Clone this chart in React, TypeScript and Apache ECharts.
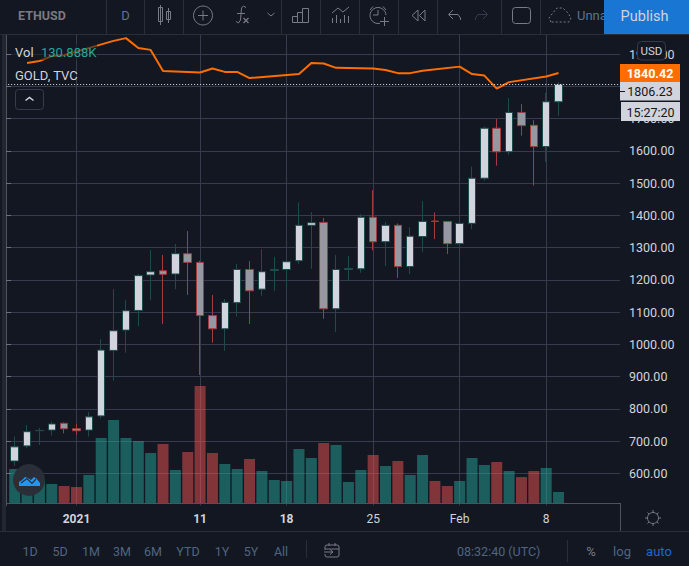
import React, { useEffect, useRef } from "react";
import * as echarts from "echarts";

const categories = [
  "Dec 26", "Dec 27", "Dec 28", "Dec 29", "Dec 30", "Dec 31",
  "Jan 1", "Jan 2", "Jan 3", "Jan 4", "Jan 5", "Jan 6", "Jan 7", "Jan 8", "Jan 9", "Jan 10",
  "Jan 11", "Jan 12", "Jan 13", "Jan 14", "Jan 15", "Jan 16", "Jan 17", "Jan 18", "Jan 19", "Jan 20",
  "Jan 21", "Jan 22", "Jan 23", "Jan 24", "Jan 25", "Jan 26", "Jan 27", "Jan 28", "Jan 29", "Jan 30", "Jan 31",
  "Feb 1", "Feb 2", "Feb 3", "Feb 4", "Feb 5", "Feb 6", "Feb 7", "Feb 8", "Feb 9",
  "Feb 10", "Feb 11", "Feb 12", "Feb 13", "Feb 14",
];
const tickLabels: Record<string, string> = {
  "Jan 1": "2021", "Jan 11": "11", "Jan 18": "18", "Jan 25": "25", "Feb 1": "Feb", "Feb 8": "8",
};
const boldTicks = ["2021", "11", "18"];

const opens = [638, 685, 732, 734, 755, 738, 734, 778, 981, 1044, 1105, 1215, 1228, 1218, 1281, 1254, 1089, 1048, 1129, 1232, 1171, 1230, 1232, 1259, 1369, 1378, 1110, 1233, 1234, 1394, 1318, 1369, 1241, 1334, 1382, 1381, 1312, 1375, 1515, 1670, 1597, 1719, 1679, 1613, 1752];
const closes = [682, 729, 733, 753, 738, 732, 775, 982, 1042, 1104, 1213, 1225, 1217, 1281, 1254, 1089, 1048, 1130, 1232, 1166, 1225, 1231, 1256, 1369, 1377, 1110, 1232, 1235, 1394, 1318, 1369, 1241, 1335, 1381, 1381, 1312, 1375, 1515, 1670, 1597, 1719, 1678, 1613, 1752, 1806.23];
const highs = [714, 750, 741, 760, 758, 753, 790, 1016, 1171, 1137, 1218, 1292, 1277, 1311, 1351, 1259, 1153, 1140, 1249, 1258, 1295, 1271, 1258, 1440, 1410, 1392, 1277, 1274, 1404, 1478, 1380, 1375, 1363, 1444, 1409, 1382, 1376, 1551, 1675, 1699, 1763, 1745, 1695, 1780, 1813];
const lows = [623, 678, 688, 717, 724, 719, 714, 770, 887, 974, 1057, 1137, 1063, 1171, 1153, 905, 1005, 980, 1086, 1063, 1150, 1166, 1182, 1249, 1234, 1079, 1038, 1197, 1222, 1292, 1243, 1206, 1218, 1286, 1326, 1280, 1271, 1357, 1507, 1554, 1587, 1647, 1492, 1566, 1709];
const volumes = [405, 280, 280, 226, 202, 190, 333, 774, 988, 774, 738, 595, 702, 393, 607, 1392, 595, 464, 405, 524, 381, 274, 262, 643, 536, 714, 690, 250, 393, 571, 440, 500, 333, 571, 262, 202, 262, 536, 452, 488, 381, 309, 381, 417, 130.888];
const gold = [null, 1873, 1879, 1895, 1898, null, null, null, 1944, 1953, 1921, 1915, 1847, null, null, 1842, 1855, 1844, 1844, 1824, null, null, null, 1837, 1873, 1871, 1857, null, null, 1855, 1850, 1840, 1840, 1848, null, null, 1861, 1837, 1832, 1790, 1811, null, null, 1829, 1840.42];

const rangeButtons: [string, number][] = [["1D", 30], ["5D", 60], ["1M", 91], ["3M", 122], ["6M", 153], ["YTD", 188], ["1Y", 222], ["5Y", 251], ["All", 281]];

const BG = "#131722";
const GRID = "#363c4e";
const SEP = "#2a2e39";
const TXT = "#d1d4dc";
const ICON = "#787b86";
const MUTED = "#50657f";
const FONT = "Roboto, sans-serif";
const Z = 100;

function line(x1: number, y1: number, x2: number, y2: number, stroke = SEP, lineWidth = 1, z = Z + 1): any {
  return { type: "line", z, silent: true, shape: { x1, y1, x2, y2 }, style: { stroke, lineWidth } };
}
function poly(points: number[][], stroke = ICON, lineWidth = 1, z = Z + 1): any {
  return { type: "polyline", z, silent: true, shape: { points }, style: { stroke, lineWidth, fill: "none" } };
}
function box(x: number, y: number, width: number, height: number, style: any, r = 0, z = Z): any {
  return { type: "rect", z, silent: true, shape: { x, y, width, height, r }, style };
}
function text(t: string, x: number, y: number, font: string, fill: string, textAlign = "left", z = Z + 2): any {
  return { type: "text", z, silent: true, x, y, style: { text: t, font: font + " " + FONT, fill, textAlign, textVerticalAlign: "middle" } };
}

function chrome(): any[] {
  const el: any[] = [];
  // top toolbar
  el.push(box(0, 0, 689, 34, { fill: BG }));
  el.push(line(0, 34.5, 689, 34.5));
  [106.5, 144.5, 183.5, 281.5, 320.5, 359.5, 398.5, 437.5, 501.5, 540.5].forEach((x) => el.push(line(x, 0, x, 34)));
  el.push(text("ETHUSD", 18, 15.5, "bold 12.5px", ICON));
  el.push(text("D", 125.5, 15.5, "13px", "#5a7396", "center"));
  // candle icon
  el.push(box(158.5, 7.5, 4, 14, { fill: "none", stroke: ICON }, 0, Z + 1), line(160.5, 5, 160.5, 25, ICON), box(166.5, 11.5, 4, 8, { fill: "none", stroke: ICON }, 0, Z + 1), line(168.5, 8, 168.5, 23, ICON));
  // plus circle
  el.push({ type: "circle", z: Z + 1, silent: true, shape: { cx: 203, cy: 15.5, r: 9.5 }, style: { fill: "none", stroke: ICON, lineWidth: 1 } }, line(198, 15.5, 208, 15.5, ICON), line(203, 10.5, 203, 20.5, ICON));
  // fx icon
  el.push(poly([[246, 7.5], [243.5, 6], [241.5, 8], [240.5, 20], [238.5, 23], [236, 21.5]]), line(237, 13.5, 245, 13.5, ICON), line(243.5, 18, 248.5, 23, ICON, 1.3), line(248.5, 18, 243.5, 23, ICON, 1.3));
  el.push(poly([[267.5, 13], [271, 16], [274.5, 13]]));
  // bars icon
  el.push(box(292.5, 16.5, 5, 6, { fill: "none", stroke: ICON }, 0, Z + 1), box(297.5, 12.5, 5, 10, { fill: "none", stroke: ICON }, 0, Z + 1), box(302.5, 8.5, 6, 14, { fill: "none", stroke: ICON }, 0, Z + 1));
  // indicator icon
  el.push(poly([[332, 13], [338, 8], [343, 12], [349, 7]]), line(332.5, 18, 332.5, 23, ICON), line(336.5, 15, 336.5, 23, ICON), line(340.5, 19, 340.5, 23, ICON), line(344.5, 15, 344.5, 23, ICON), line(348.5, 16, 348.5, 23, ICON));
  // alarm
  el.push({ type: "circle", z: Z + 1, silent: true, shape: { cx: 378, cy: 15.5, r: 8 }, style: { fill: "none", stroke: ICON, lineWidth: 1 } }, poly([[378, 10], [378, 15], [373, 15]]), poly([[370, 10], [373, 6.5]]), poly([[386, 10], [383, 6.5]]), box(380, 15, 10, 10, { fill: BG }, 0, Z + 1), line(380, 21.5, 389, 21.5, ICON, 1, Z + 2), line(384.5, 17, 384.5, 26, ICON, 1, Z + 2));
  // rewind
  el.push(poly([[418, 10], [412, 15.5], [418, 21], [418, 10]]), poly([[425, 10], [419.5, 15.5], [425, 21], [425, 10]]));
  // undo / redo
  el.push(poly([[453, 10], [448.5, 14.5], [453, 19]]), poly([[449, 14.5], [458, 14.5], [460.5, 18], [460.5, 20]]));
  el.push(poly([[483, 10], [487.5, 14.5], [483, 19]], GRID), poly([[487, 14.5], [478, 14.5], [475.5, 18], [475.5, 20]], GRID));
  // square
  el.push(box(512.5, 7.5, 18, 16, { fill: "none", stroke: ICON }, 3, Z + 1));
  // cloud
  el.push({ type: "polyline", z: Z + 1, silent: true, shape: { points: [[551, 22], [549, 18], [552, 14], [557, 8], [563, 8], [568, 13], [571, 18], [569, 22], [551, 22]] }, style: { stroke: ICON, lineWidth: 1, fill: "none", lineDash: [2, 2] } });
  el.push(text("Unna", 577, 15.5, "13px", "#5a7396"));
  el.push(box(604, 0, 85, 34, { fill: "#1976d2" }, 0, Z + 2));
  el.push({ ...text("Publish", 644.5, 16, "14.5px", TXT, "center"), z: Z + 3 });

  // left strip
  el.push(box(0, 35, 2, 496, { fill: BG }), box(2, 35, 4, 496, { fill: "#222631" }));

  // legends
  el.push(box(12, 44, 85, 16, { fill: "rgba(19,23,34,0.55)" }, 0, 50));
  el.push(text("Vol", 15, 52, "13px", TXT));
  el.push(text("130.888K", 41, 52, "13px", "#26a69a"));
  el.push(text("GOLD, TVC", 15, 75, "13px", TXT));
  el.push(box(15.5, 89.5, 28, 20, { fill: BG, stroke: GRID }, 3, 60));
  el.push(poly([[25.5, 100.5], [29.5, 97.5], [33.5, 100.5]], TXT, 1.5, 61));

  // watermark
  el.push({ type: "circle", z: 70, silent: true, shape: { cx: 29, cy: 480, r: 16 }, style: { fill: "#2a2e39" } });
  el.push({ type: "polygon", z: 71, silent: true, shape: { points: [[19, 486], [19, 482], [22, 480], [25, 477], [28, 478], [31, 480], [34, 477], [37, 479], [40, 483], [40, 486]] }, style: { fill: "#2196f3" } });
  el.push(poly([[21, 483], [27, 478.5], [32, 483.5], [36, 479]], "#2a2e39", 1.2, 72));

  // price panel overlays
  el.push(box(621, 504, 68, 3, { fill: BG }));
  el.push(box(637.5, 41.5, 28, 18.5, { fill: BG, stroke: GRID }, 4));
  el.push(text("USD", 651.5, 50.5, "11.5px", TXT, "center"));
  el.push(box(620, 64, 60, 18, { fill: "#ff6d00" }));
  el.push(text("1840.42", 650, 73.5, "bold 12.5px", "#ffffff", "center"));
  el.push(box(620, 82, 60, 18.5, { fill: TXT }));
  el.push(text("1806.23", 650, 91.5, "12.5px", BG, "center"));
  el.push(line(620, 91.5, 625, 91.5, BG));
  el.push(box(621, 102, 59, 19, { fill: TXT }));
  el.push(text("15:27:20", 650.5, 112, "12.5px", BG, "center"));

  // time axis lines
  el.push(line(6, 503.5, 620, 503.5, "#4c525e"));
  el.push(line(620.5, 503, 620.5, 531, "#4c525e"));
  el.push(line(0, 531.5, 689, 531.5));
  // sun icon
  el.push({ type: "circle", z: Z + 1, silent: true, shape: { cx: 653, cy: 518, r: 5.5 }, style: { fill: "none", stroke: ICON, lineWidth: 1 } });
  [[653, 510, 653, 512], [653, 524, 653, 526], [645, 518, 647, 518], [659, 518, 661, 518], [647.5, 512.5, 649, 514], [657, 522, 658.5, 523.5], [658.5, 512.5, 657, 514], [649, 522, 647.5, 523.5]].forEach((s) => el.push(line(s[0], s[1], s[2], s[3], ICON)));

  // bottom bar
  rangeButtons.forEach(([t, x]) => el.push(text(t, x, 551.5, "12.5px", MUTED, "center")));
  el.push(line(306.5, 540, 306.5, 558));
  el.push(box(325, 545, 14, 12, { fill: "none", stroke: ICON }, 2, Z + 1), line(325, 549, 339, 549, ICON), line(329, 543, 329, 546, ICON), line(335, 543, 335, 546, ICON), box(322, 550, 12, 4, { fill: BG }, 0, Z + 1), poly([[324, 552], [333, 552]], ICON, 1, Z + 2), poly([[330, 549.5], [333, 552], [330, 554.5]], ICON, 1, Z + 2));
  el.push(text("08:32:40 (UTC)", 457, 551.5, "12.5px", MUTED));
  el.push(line(567.5, 540, 567.5, 562));
  el.push(text("%", 591, 551.5, "13px", ICON, "center"));
  el.push(text("log", 622, 551.5, "13px", MUTED, "center"));
  el.push(text("auto", 659, 551.5, "13px", "#1e66d8", "center"));
  return el;
}

export default function App() {
  const ref = useRef<HTMLDivElement>(null);
  useEffect(() => {
    document.body.style.background = BG;
    const chart = echarts.init(ref.current!, undefined, { renderer: "svg" });
    const band = 12.36;
    const top = 21.8;
    const height = 483.75;
    const candle = opens.map((o, i) => [i + 1, o, closes[i], lows[i], highs[i]]);
    const vol = volumes.map((v, i) => ({
      value: [i + 1, v],
      itemStyle: { color: closes[i] >= opens[i] ? "rgba(38,166,154,0.5)" : "rgba(239,83,80,0.5)" },
    }));
    const goldLine = gold.map((g, i) => (g == null ? null : [i + 1, g])).filter(Boolean);
    chart.setOption({
      animation: false,
      backgroundColor: BG,
      grid: [
        { left: -3.84, top, width: band * categories.length, height, outerBoundsMode: "none" },
        { left: 6, top, width: 614, height, outerBoundsMode: "none" },
      ],
      xAxis: [
        {
          type: "category",
          gridIndex: 0,
          data: categories,
          axisLine: { show: false },
          axisTick: { show: false },
          axisLabel: {
            interval: (_: number, v: string) => v in tickLabels,
            formatter: (v: string) => {
              const t = tickLabels[v] ?? "";
              return boldTicks.includes(t) ? `{b|${t}}` : `{r|${t}}`;
            },
            margin: 7,
            rich: {
              b: { color: TXT, fontFamily: FONT, fontSize: 12, fontWeight: "bold" },
              r: { color: TXT, fontFamily: FONT, fontSize: 12 },
            },
          },
          splitLine: {
            show: true,
            alignWithLabel: true,
            interval: (_: number, v: string) => v in tickLabels,
            lineStyle: { color: GRID, width: 1 },
          },
        },
        { type: "value", gridIndex: 1, min: 0, max: 1, show: false },
      ],
      yAxis: [
        { type: "value", gridIndex: 0, min: 500, max: 2000, show: false },
        { type: "value", gridIndex: 0, min: -30.3, max: 5726, show: false },
        { type: "value", gridIndex: 0, min: 445, max: 2005.6, show: false },
        {
          type: "value",
          gridIndex: 1,
          position: "right",
          min: 500,
          max: 2000,
          interval: 100,
          axisLine: { show: true, lineStyle: { color: "#4c525e" } },
          axisTick: { show: true, length: 5, lineStyle: { color: "#6b7080" } },
          axisLabel: {
            showMinLabel: false,
            showMaxLabel: false,
            margin: 9,
            color: TXT,
            fontFamily: FONT,
            fontSize: 12.5,
            formatter: (v: number) => v.toFixed(2),
          },
          splitLine: { show: true, showMinLine: false, showMaxLine: false, lineStyle: { color: GRID, width: 1 } },
        },
      ],
      series: [
        { type: "line", xAxisIndex: 1, yAxisIndex: 3, data: [], silent: true },
        {
          type: "bar",
          name: "Vol",
          yAxisIndex: 1,
          barWidth: 11,
          z: 1,
          silent: true,
          data: vol,
        },
        {
          type: "candlestick",
          name: "ETHUSD",
          yAxisIndex: 0,
          barWidth: 8,
          z: 2,
          silent: true,
          data: candle,
          encode: { x: 0, y: [1, 2, 3, 4] },
          itemStyle: {
            color: TXT,
            color0: "#9598a1",
            borderColor: "#1d4b4c",
            borderColor0: "#a23b42",
            borderWidth: 1,
          },
          markLine: {
            silent: true,
            symbol: "none",
            label: { show: false },
            lineStyle: { color: "#ffffff", type: [1, 2], width: 1, opacity: 0.9 },
            data: [{ yAxis: closes[closes.length - 1] }],
          },
        },
        {
          type: "line",
          name: "GOLD, TVC",
          yAxisIndex: 2,
          z: 3,
          silent: true,
          symbol: "none",
          lineStyle: { color: "#ff6d00", width: 2 },
          data: goldLine,
        },
      ],
      graphic: { elements: chrome() },
    });
    return () => chart.dispose();
  }, []);
  return <div ref={ref} style={{ position: "fixed", left: 0, top: 0, width: 689, height: 566 }} />;
}
